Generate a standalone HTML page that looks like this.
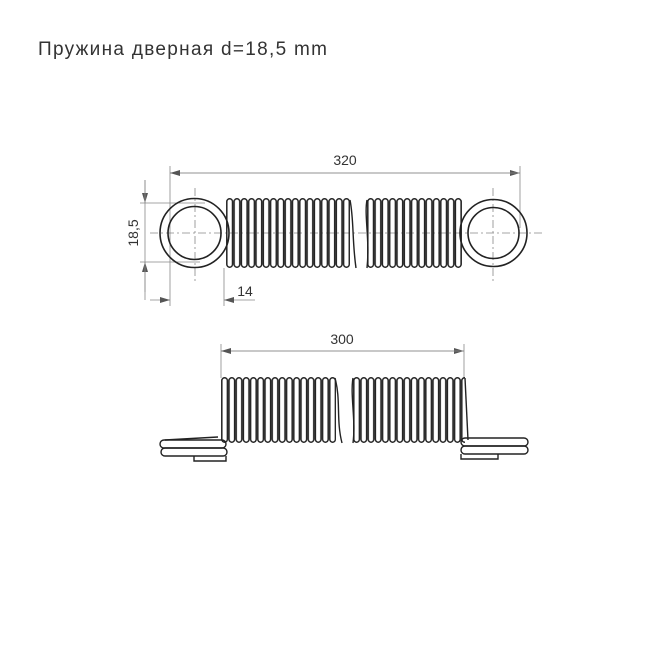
<!DOCTYPE html>
<html><head><meta charset="utf-8"><style>
html,body{margin:0;padding:0;background:#fff;width:650px;height:650px;overflow:hidden}
</style></head><body>
<svg width="650" height="650" viewBox="0 0 650 650" xmlns="http://www.w3.org/2000/svg" font-family="Liberation Sans, sans-serif">
<defs>
<pattern id="c1" patternUnits="userSpaceOnUse" x="226" y="198" width="7.3" height="70">
<rect x="0.8" y="0.8" width="5.7" height="68.4" rx="2.8" fill="none" stroke="#222" stroke-width="1.5"/>
</pattern>
<pattern id="c2" patternUnits="userSpaceOnUse" x="367" y="198" width="7.3" height="70">
<rect x="0.8" y="0.8" width="5.7" height="68.4" rx="2.8" fill="none" stroke="#222" stroke-width="1.5"/>
</pattern>
<pattern id="c3" patternUnits="userSpaceOnUse" x="221" y="377" width="7.2" height="66">
<rect x="0.8" y="0.8" width="5.6" height="64.4" rx="2.8" fill="none" stroke="#222" stroke-width="1.5"/>
</pattern>
<pattern id="c4" patternUnits="userSpaceOnUse" x="353" y="377" width="7.2" height="66">
<rect x="0.8" y="0.8" width="5.6" height="64.4" rx="2.8" fill="none" stroke="#222" stroke-width="1.5"/>
</pattern>
<marker id="a" markerWidth="10" markerHeight="6" refX="10" refY="3" orient="auto" markerUnits="userSpaceOnUse">
<path d="M0,0 L10,3 L0,6 z" fill="#555"/></marker>
</defs>
<text x="38" y="55" font-size="19" fill="#333" textLength="289" lengthAdjust="spacing">Пружина дверная d=18,5 mm</text>

<g stroke="#888" stroke-width="0.8" fill="none">
<line x1="150" y1="233" x2="545" y2="233" stroke-dasharray="8,3,2,3"/>
<line x1="195" y1="188" x2="195" y2="282" stroke-dasharray="8,3,2,3"/>
<line x1="493" y1="188" x2="493" y2="282" stroke-dasharray="8,3,2,3"/>
<line x1="170" y1="166" x2="170" y2="306"/>
<line x1="520" y1="166" x2="520" y2="228"/>
<line x1="170" y1="173" x2="520" y2="173" marker-end="url(#a)"/>
<line x1="520" y1="173" x2="170" y2="173" marker-end="url(#a)"/>
<line x1="140" y1="203" x2="205" y2="203"/>
<line x1="140" y1="262" x2="200" y2="262"/>
<line x1="145" y1="180" x2="145" y2="203" marker-end="url(#a)"/>
<line x1="145" y1="292" x2="145" y2="262" marker-end="url(#a)"/>
<line x1="145" y1="180" x2="145" y2="300"/>
<line x1="224" y1="268" x2="224" y2="306"/>
<line x1="150" y1="300" x2="170" y2="300" marker-end="url(#a)"/>
<line x1="255" y1="300" x2="224" y2="300" marker-end="url(#a)"/>
</g>
<text x="345" y="165" font-size="14" fill="#333" text-anchor="middle">320</text>
<text x="245" y="296" font-size="14" fill="#333" text-anchor="middle">14</text>
<text transform="translate(138,233) rotate(-90)" font-size="14" fill="#333" text-anchor="middle">18,5</text>

<g stroke="#222" stroke-width="1.6" fill="none">
<circle cx="194.5" cy="233" r="34.5"/>
<circle cx="194.5" cy="233" r="26.5"/>
<circle cx="493.5" cy="233" r="33.5"/>
<circle cx="493.5" cy="233" r="25.5"/>
</g>
<rect x="226" y="198" width="124" height="70" fill="url(#c1)"/>
<rect x="367" y="198" width="95" height="70" fill="url(#c2)"/>
<g stroke="#222" stroke-width="1.4" fill="none">
<path d="M350,200 C354,220 352,240 356,268"/>
<path d="M367,200 C364,215 370,240 367,268"/>
</g>

<g stroke="#888" stroke-width="0.8" fill="none">
<line x1="221" y1="344" x2="221" y2="378"/>
<line x1="464" y1="344" x2="464" y2="378"/>
<line x1="221" y1="351" x2="464" y2="351" marker-end="url(#a)"/>
<line x1="464" y1="351" x2="221" y2="351" marker-end="url(#a)"/>
</g>
<text x="342" y="344" font-size="14" fill="#333" text-anchor="middle">300</text>
<rect x="221" y="377" width="115" height="66" fill="url(#c3)"/>
<rect x="353" y="377" width="112" height="66" fill="url(#c4)"/>
<g stroke="#222" stroke-width="1.4" fill="none">
<path d="M335,378 C341,400 336,420 342,443"/>
<path d="M353,378 C350,395 356,420 353,443"/>
<path d="M465,378 L468,440"/>
<rect x="160" y="440" width="66" height="8" rx="4"/>
<rect x="161" y="448" width="66" height="8" rx="4"/>
<path d="M194,456 L194,461 L226,461 L226,456"/>
<path d="M165,440 L218,437"/>
<rect x="461" y="438" width="67" height="8" rx="4"/>
<rect x="461" y="446" width="67" height="8" rx="4"/>
<path d="M461,454 L461,459 L498,459 L498,454"/>
</g>
</svg>
</body></html>
